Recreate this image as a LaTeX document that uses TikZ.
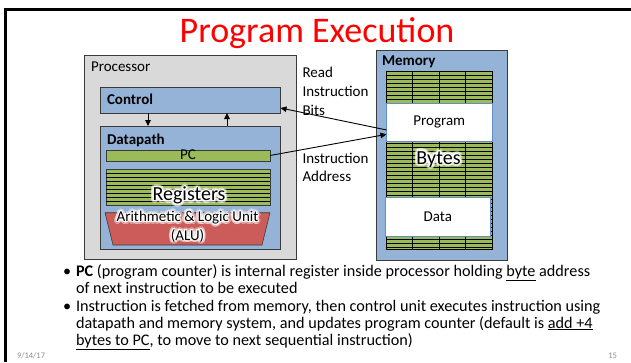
\documentclass[tikz,border=0pt]{standalone}
\usepackage{fontspec}
\setmainfont{Carlito}
\usepackage{contour}
\usetikzlibrary{arrows.meta,calc}

\definecolor{procgray}{HTML}{D9D9D9}
\definecolor{boxblue}{HTML}{95B3D7}
\definecolor{bitgreen}{HTML}{9BBB59}
\definecolor{alured}{HTML}{CB5C59}
\definecolor{edge}{HTML}{3A3A3A}
\definecolor{cellblue}{HTML}{5F8DC6}
\definecolor{titlered}{HTML}{FF0000}
\definecolor{footgray}{HTML}{8C8C8C}

% white halo behind text: a soft wide one and a crisp narrow one
\newcommand{\softhalo}[1]{{\contourlength{2.8pt}\contour{white}{#1}}}
\newcommand{\crisphalo}[1]{{\contourlength{0.9pt}\contour{white}{#1}}}

\tikzset{
  every node/.style={inner sep=0pt, outer sep=0pt},
  body/.style={font=\fontsize{15}{18.3}\selectfont},
  lbl/.style={body, anchor=base west},
  boldlbl/.style={font=\fontsize{15}{18.3}\selectfont\bfseries, anchor=base west},
  panel/.style={draw=edge, line width=0.8pt, anchor=north west},
  bitbar/.style={draw=edge, line width=0.7pt, fill=bitgreen, anchor=north west},
  cell/.style={draw=cellblue, line width=0.7pt, fill=white, anchor=north west, body},
  stripe/.style={black, line width=0.9pt},
  glowlayer/.style={text=white, text opacity=0.35},
  arr/.style={line width=0.9pt, -{Triangle[length=6pt,width=5.5pt]}},
  bullettext/.style={font=\fontsize{16.2}{18}\selectfont, anchor=base west},
  foot/.style={font=\fontsize{8.5}{10}\selectfont, text=footgray, anchor=base west},
}

\begin{document}
\begin{tikzpicture}[x=1pt,y=-1pt]
\useasboundingbox (0,0) rectangle (631,362);

% slide frame (top and left edges)
\draw[line width=2.6pt] (5.5,362) -- (5.5,9.5) -- (631,9.5);

% title
\node[font=\fontsize{36}{40}\selectfont, text=titlered, anchor=base] (title) at (317,42) {Program Execution};

% ---------- processor ----------
\node[panel, fill=procgray, minimum width=212.5pt, minimum height=204pt] (proc) at (84,55) {};
\node[lbl] (proclbl) at (91,71.5) {Processor};

\node[panel, fill=boxblue, minimum width=180pt, minimum height=26pt] (ctrl) at (100.5,87) {};
\node[boldlbl] (ctrllbl) at (107,104.5) {Control};

\node[panel, fill=boxblue, minimum width=180pt, minimum height=123.5pt] (dp) at (100.5,126) {};
\node[boldlbl] (dplbl) at (107,144.3) {Datapath};

\draw[arr] ([xshift=-42.5pt]ctrl.south) -- ([xshift=-42.5pt]dp.north);
\draw[arr] ([xshift=36.5pt]dp.north) -- ([xshift=36.5pt]ctrl.south);

% program counter
\node[bitbar, minimum width=164pt, minimum height=11pt] (pc) at (106,150) {};
\node[body, anchor=base] (pclbl) at ($(pc.south)+(0,-1.5)$) {PC};

% register file
\node[bitbar, minimum width=164pt, minimum height=36pt] (regs) at (106,169) {};
\foreach \k in {1,...,8}
  \draw[stripe] ([yshift={-4pt*\k}]regs.north west) -- ([yshift={-4pt*\k}]regs.north east);
\node[font=\fontsize{20}{24}\selectfont, anchor=base, glowlayer] (regsglow) at (189,200.7) {\softhalo{Registers}};
\node[font=\fontsize{20}{24}\selectfont, anchor=base] (regslbl) at (189,200.7) {\crisphalo{Registers}};

% ALU (anchor base = baseline of the last line)
\path[fill=alured, draw=edge, line width=0.6pt] (105,212.7) -- (270,212.7) -- (262,245) -- (113,245) -- cycle;
\node[body, align=center, anchor=base, glowlayer] (aluglow) at (187.5,240)
  {\softhalo{Arithmetic \& Logic Unit}\\\softhalo{(ALU)}};
\node[body, align=center, anchor=base] (alu) at (187.5,240)
  {\crisphalo{Arithmetic \& Logic Unit}\\\crisphalo{(ALU)}};

% ---------- memory ----------
\node[panel, fill=boxblue, minimum width=131pt, minimum height=210pt] (mem) at (376,50) {};
\node[boldlbl] (memlbl) at (382,65) {Memory};

\node[bitbar, draw=black, minimum width=106pt, minimum height=178.5pt] (grid) at (386,71) {};
\foreach \k in {1,...,44}
  \draw[stripe] ([yshift={-4pt*\k}]grid.north west) -- ([yshift={-4pt*\k}]grid.north east);
\foreach \j in {1,2,3}
  \draw[stripe] ([xshift={26.5pt*\j}]grid.north west) -- ([xshift={26.5pt*\j}]grid.south west);

\node[cell, minimum width=105.5pt, minimum height=38.7pt] (prog) at (386.5,103) {Program};
\node[cell, minimum width=105.7pt, minimum height=39.7pt] (data) at (385,197) {Data};

\node[font=\fontsize{20}{24}\selectfont, anchor=base, glowlayer] (bytesglow) at (438.5,164) {\softhalo{Bytes}};
\node[font=\fontsize{20}{24}\selectfont, anchor=base] (byteslbl) at (438.5,164) {\crisphalo{Bytes}};

% ---------- connections ----------
\node[lbl] (rd1) at (302.5,77.3) {Read};
\node[lbl] (rd2) at (302.5,96.5) {Instruction};
\node[lbl] (rd3) at (302.5,115.5) {Bits};
\node[lbl] (ia1) at (302.5,163.3) {Instruction};
\node[lbl] (ia2) at (302.5,181.7) {Address};

\draw[arr] ([yshift=-7.6pt]prog.west) -- ([yshift=-8pt]ctrl.east);
\draw[arr] (pc.east) -- ([yshift=-12pt]prog.west);

% ---------- notes ----------
\node[bullettext] (b1) at (63,276) {•};
\node[bullettext] (t1) at (76,276) {\textbf{PC} (program counter) is internal register inside processor holding \underline{byte} address};
\node[bullettext] (t2) at (76,293) {of next instruction to be executed};
\node[bullettext] (b2) at (63,311) {•};
\node[bullettext] (t3) at (76,311) {Instruction is fetched from memory, then control unit executes instruction using};
\node[bullettext] (t4) at (76,328) {datapath and memory system, and updates program counter (default is \underline{add +4}};
\node[bullettext] (t5) at (76,345) {\underline{bytes to PC}, to move to next sequential instruction)};

\node[foot] (date) at (17,358) {9/14/17};
\node[foot, anchor=base east] (page) at (617,358) {15};
\end{tikzpicture}
\end{document}
